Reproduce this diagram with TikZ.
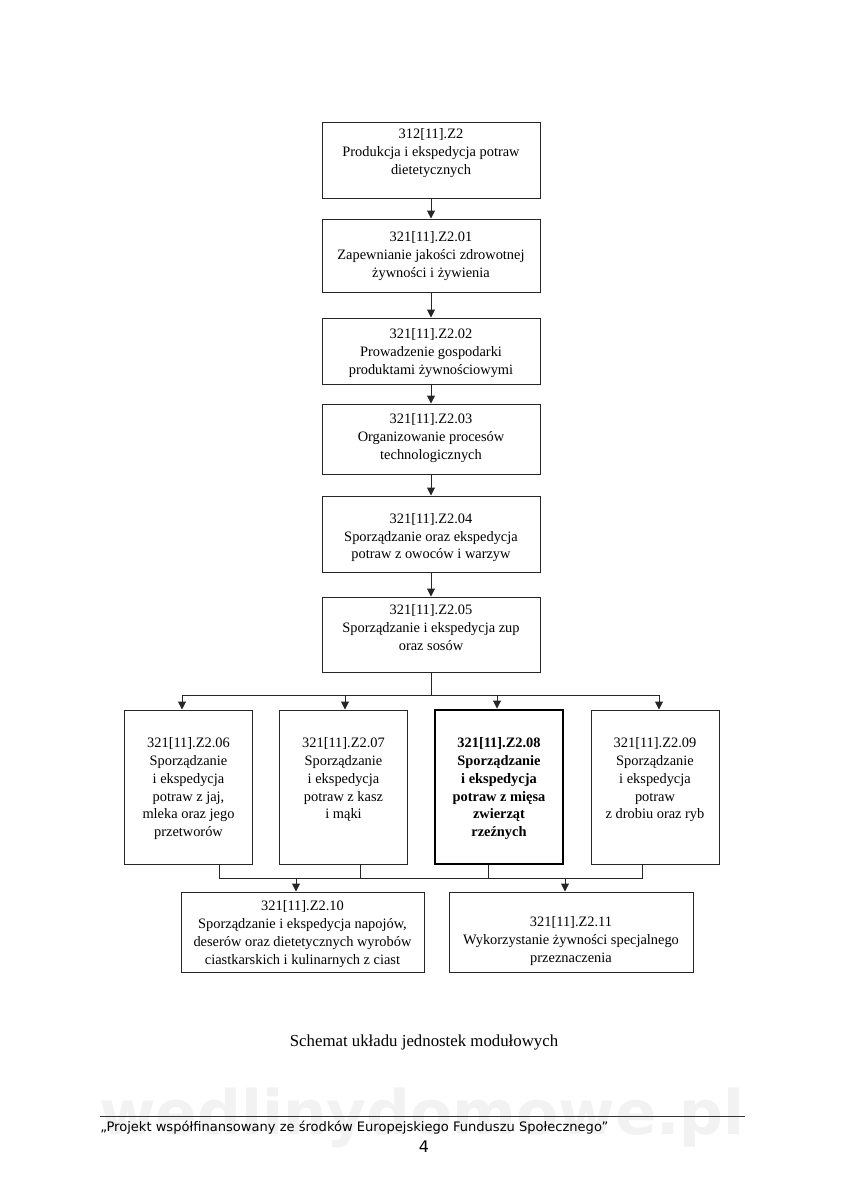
\documentclass[tikz,border=0pt]{standalone}
\usepackage{fontspec}
\usepackage{graphicx}
\setmainfont{Liberation Serif}
\newfontfamily\footfont{DejaVu Sans}
\newfontfamily\wmfont{DejaVu Sans Bold}
\usetikzlibrary{arrows.meta,calc}
\newcommand\bxt[4]{\parbox[c][#2][t]{#1}{\vspace*{#3}\centering\fontsize{10.8}{13.4}\selectfont\strut #4\par}}
\tikzset{
  box/.style={draw=black!85, line width=0.75pt, inner sep=0pt, fill=white},
  thickbox/.style={box, draw=black, line width=2.2pt},
  ln/.style={draw=black!85, line width=0.75pt},
  arr/.style={ln, -{Triangle[width=6pt,length=6pt]}},
}
\begin{document}
\begin{tikzpicture}[x=0.75pt,y=-0.75pt]
\useasboundingbox[fill=white] (0,0) rectangle (848,1200);

% vertical chain
\node[box] (b1) at (431,160)   {\bxt{163.5pt}{57pt}{3pt}{312[11].Z2\\Produkcja i ekspedycja potraw\\dietetycznych}};
\node[box] (b2) at (431,255.5) {\bxt{163.5pt}{54.75pt}{7.5pt}{321[11].Z2.01\\Zapewnianie jakości zdrowotnej\\żywności i żywienia}};
\node[box] (b3) at (431,351)   {\bxt{163.5pt}{49.5pt}{6pt}{321[11].Z2.02\\Prowadzenie gospodarki\\produktami żywnościowymi}};
\node[box] (b4) at (431,439)   {\bxt{163.5pt}{52.5pt}{5.25pt}{321[11].Z2.03\\Organizowanie procesów\\technologicznych}};
\node[box] (b5) at (431,534)   {\bxt{163.5pt}{57pt}{11pt}{321[11].Z2.04\\Sporządzanie oraz ekspedycja\\potraw z owoców i warzyw}};
\node[box] (b6) at (431,634.5) {\bxt{163.5pt}{56.25pt}{3.75pt}{321[11].Z2.05\\Sporządzanie i ekspedycja zup\\oraz sosów}};

\draw[arr] (b1.south) -- (b2.north);
\draw[arr] (b2.south) -- (b3.north);
\draw[arr] (b3.south) -- (b4.north);
\draw[arr] (b4.south) -- (b5.north);
\draw[arr] (b5.south) -- (b6.north);

% row of four
\node[box]      (r1) at (188.5,787) {\bxt{96pt}{115.5pt}{18.75pt}{321[11].Z2.06\\Sporządzanie\\i ekspedycja\\potraw z jaj,\\mleka oraz jego\\przetworów}};
\node[box]      (r2) at (343.5,787) {\bxt{96pt}{115.5pt}{18.75pt}{321[11].Z2.07\\Sporządzanie\\i ekspedycja\\potraw z kasz\\i mąki}};
\node[thickbox] (r3) at (499,787)   {\bxt{96pt}{115.5pt}{18.75pt}{\bfseries 321[11].Z2.08\\Sporządzanie\\i ekspedycja\\potraw z mięsa\\zwierząt\\rzeźnych}};
\node[box]      (r4) at (655,787)   {\bxt{96pt}{115.5pt}{18.75pt}{321[11].Z2.09\\Sporządzanie\\i ekspedycja\\potraw\\z drobiu oraz ryb}};

\coordinate (bus) at (431,695);
\coordinate (a1) at (182,695);
\coordinate (a2) at (345,695);
\coordinate (a3) at (497,695);
\coordinate (a4) at (659,695);
\draw[ln] (b6.south) -- (bus);
\draw[ln] (a1) -- (a4);
\draw[arr] (a1) -- (a1 |- r1.north);
\draw[arr] (a2) -- (a2 |- r2.north);
\draw[arr] (a3) -- (a3 |- r3.north);
\draw[arr] (a4) -- (a4 |- r4.north);

% bottom pair
\node[box] (b10) at (302.5,932) {\bxt{182.25pt}{60pt}{4.5pt}{321[11].Z2.10\\Sporządzanie i ekspedycja napojów,\\deserów oraz dietetycznych wyrobów\\ciastkarskich i kulinarnych z ciast}};
\node[box] (b11) at (571,932)   {\bxt{183pt}{60pt}{16.5pt}{321[11].Z2.11\\Wykorzystanie żywności specjalnego\\przeznaczenia}};

\coordinate (s1) at (219,878);
\coordinate (s2) at (360,878);
\coordinate (s3) at (488,878);
\coordinate (s4) at (642,878);
\coordinate (t1) at (296,878);
\coordinate (t2) at (565,878);
\draw[ln] (s1 |- r1.south) -- (s1) -- (s4) -- (s4 |- r4.south);
\draw[ln] (s2 |- r2.south) -- (s2);
\draw[ln] (s3 |- r3.south) -- (s3);
\draw[arr] (t1) -- (t1 |- b10.north);
\draw[arr] (t2) -- (t2 |- b11.north);

% caption
\node (cap) at (424,1042) {\fontsize{12.6}{15}\selectfont Schemat układu jednostek modułowych};

% watermark
\node[text=black!5, inner sep=0pt] (wm) at (422,1118) {\resizebox{484pt}{!}{\wmfont wedlinydomowe.pl}};

% footer
\coordinate (fl) at (100,1116);
\coordinate (fr) at (745,1116);
\draw[line width=0.6pt, draw=black!80] (fl) -- (fr);
\node[anchor=west, inner sep=0pt] (foot) at (100,1128) {\resizebox{381pt}{!}{\footfont „Projekt współfinansowany ze środków Europejskiego Funduszu Społecznego”}};
\node[inner sep=0pt] (pg) at (424,1147) {\fontsize{12}{14}\selectfont\footfont 4};
\end{tikzpicture}
\end{document}
